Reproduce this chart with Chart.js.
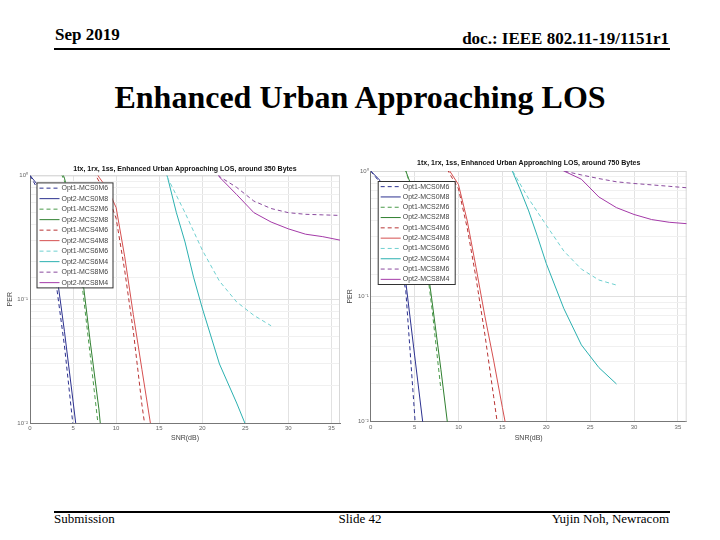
<!DOCTYPE html>
<html>
<head>
<meta charset="utf-8">
<script src="https://cdn.jsdelivr.net/npm/chart.js@4.4.0/dist/chart.umd.min.js"></script>
<style>
  body { margin: 0; background: #fff; width: 720px; height: 540px; position: relative; overflow: hidden; }
  .txt { position: absolute; font-family: 'Liberation Serif', 'Times New Roman', serif; color: #000; white-space: nowrap; }
  .rule { position: absolute; left: 54px; width: 616px; height: 1.5px; background: #000; }
  .box { position: absolute; }
</style>
</head>
<body>
<div class="txt" style="left:55px; top:25px; font-size:17px; font-weight:bold;">Sep 2019</div>
<div class="txt" style="right:51px; top:29px; font-size:17px; font-weight:bold;">doc.: IEEE 802.11-19/1151r1</div>
<div class="rule" style="top:48px;"></div>
<div class="txt" style="left:0; width:720px; text-align:center; top:79px; font-size:32px; font-weight:bold;">Enhanced Urban Approaching LOS</div>

<div class="box" style="left:0; top:160px; width:345px; height:285px;"><canvas id="leftChart" width="345" height="285"></canvas></div>
<div class="box" style="left:340px; top:155px; width:350px; height:290px;"><canvas id="rightChart" width="350" height="290"></canvas></div>

<div class="rule" style="top:511px;"></div>
<div class="txt" style="left:54px; top:511px; font-size:13px;">Submission</div>
<div class="txt" style="left:0; width:720px; text-align:center; top:511px; font-size:13px;">Slide 42</div>
<div class="txt" style="right:51px; top:511px; font-size:13px;">Yujin Noh, Newracom</div>

<script>
// legend labels (same in both plots)
const seriesLabels = ['Opt1-MCS0M6', 'Opt2-MCS0M8', 'Opt1-MCS2M6', 'Opt2-MCS2M8', 'Opt1-MCS4M6',
  'Opt2-MCS4M8', 'Opt1-MCS6M6', 'Opt2-MCS6M4', 'Opt1-MCS8M6', 'Opt2-MCS8M4'];
const seriesColors = ['#2c318f', '#2c318f', '#4a9a4a', '#2f7f2f', '#b83434', '#d65050',
  '#6fd0d0', '#2bb0b0', '#8a4a9e', '#a43aa8'];
const seriesDashed = [true, false, true, false, true, false, true, false, true, false];
const xTicks = [0, 5, 10, 15, 20, 25, 30, 35];

// --- around 350 Bytes (left) ---
const l_snr0 = [0, 1, 2, 3, 4, 5, 6];
const l_opt1_mcs0 = [1.0, 0.75, 0.42, 0.14, 0.042, 0.0095, 0.002];
const l_opt2_mcs0 = [1.0, 0.82, 0.5, 0.18, 0.055, 0.015, 0.004];
const l_snr2 = [3, 4, 5, 6, 7, 8, 9];
const l_opt1_mcs2 = [1.3, 0.9, 0.45, 0.14, 0.035, 0.0085, 0.002];
const l_opt2_mcs2 = [1.4, 0.95, 0.5, 0.17, 0.045, 0.013, 0.0025];
const l_snr4 = [7, 8, 9, 10, 11, 12, 13, 14, 15];
const l_opt1_mcs4 = [1.2, 0.9, 0.7, 0.45, 0.17, 0.055, 0.014, 0.0045, 0.0015];
const l_opt2_mcs4 = [1.3, 0.97, 0.78, 0.55, 0.22, 0.075, 0.027, 0.0098, 0.003];
const l_snr6a = [15, 16, 18, 20, 22, 24, 26, 28];
const l_opt1_mcs6 = [1.6, 0.95, 0.5, 0.25, 0.14, 0.095, 0.074, 0.061];
const l_snr6b = [15, 16, 17, 18, 19, 20, 22, 24, 25, 26];
const l_opt2_mcs6 = [1.6, 0.95, 0.5, 0.29, 0.15, 0.085, 0.03, 0.0145, 0.0098, 0.007];
const l_snr8 = [20, 22, 24, 26, 28, 30, 32, 34, 36];
const l_opt1_mcs8 = [1.8, 0.98, 0.8, 0.62, 0.54, 0.5, 0.485, 0.48, 0.475];
const l_opt2_mcs8 = [1.8, 0.97, 0.7, 0.5, 0.42, 0.37, 0.335, 0.32, 0.3];

// --- around 750 Bytes (right) ---
const r_snr0a = [0, 1, 2, 3, 4, 5, 6];
const r_opt1_mcs0 = [1.0, 0.82, 0.55, 0.27, 0.11, 0.0115, 0.001];
const r_snr0b = [0, 1, 2, 3, 4, 5, 6, 7];
const r_opt2_mcs0 = [1.0, 0.85, 0.6, 0.3, 0.13, 0.034, 0.009, 0.002];
const r_snr2a = [3, 4, 5, 6, 7, 8];
const r_opt1_mcs2 = [1.5, 1.0, 0.6, 0.28, 0.078, 0.018];
const r_snr2b = [3, 4, 5, 6, 7, 8, 9, 10];
const r_opt2_mcs2 = [1.5, 1.0, 0.65, 0.3, 0.09, 0.026, 0.007, 0.002];
const r_snr4a = [8, 9, 10, 11, 12, 13, 14, 15, 16];
const r_opt1_mcs4 = [1.3, 0.95, 0.72, 0.35, 0.14, 0.05, 0.016, 0.005, 0.0015];
const r_snr4b = [8, 9, 10, 11, 12, 13, 14, 15, 16, 17];
const r_opt2_mcs4 = [1.3, 1.0, 0.78, 0.4, 0.17, 0.07, 0.031, 0.013, 0.0056, 0.002];
const r_snr6a = [15, 16, 18, 20, 22, 24, 26, 28];
const r_opt1_mcs6 = [1.6, 1.05, 0.6, 0.37, 0.23, 0.165, 0.135, 0.123];
const r_snr6b = [15, 16, 17, 18, 19, 20, 22, 24, 26, 28];
const r_opt2_mcs6 = [1.6, 1.05, 0.72, 0.48, 0.3, 0.183, 0.08, 0.041, 0.027, 0.02];
const r_snr8 = [20, 22, 24, 26, 28, 30, 32, 34, 36];
const r_opt1_mcs8 = [1.2, 1.0, 0.93, 0.87, 0.82, 0.795, 0.775, 0.755, 0.735];
const r_opt2_mcs8 = [1.3, 1.0, 0.86, 0.62, 0.51, 0.45, 0.41, 0.39, 0.38];

function pts(xs, ys) {
  return xs.map((x, i) => ({ x: x, y: ys[i] }));
}

function makeDatasets(list) {
  return list.map((pair, i) => ({
    label: seriesLabels[i],
    data: pts(pair[0], pair[1]),
    borderColor: seriesColors[i],
    backgroundColor: seriesColors[i],
    borderWidth: 1,
    borderDash: seriesDashed[i] ? [4, 3] : [],
    pointRadius: 0,
    tension: 0,
    fill: false,
  }));
}

function isDecade(v) {
  const l = Math.log10(v);
  return Math.abs(l - Math.round(l)) < 1e-6;
}

// legend drawn as a framed box in the upper-left of the plot, like the MATLAB figure
const boxLegend = {
  id: 'boxLegend',
  afterDatasetsDraw(chart, args, opts) {
    const ctx = chart.ctx;
    const area = chart.chartArea;
    const x0 = area.left + opts.dx;
    const y0 = area.top + opts.dy;
    const rowH = opts.h / chart.data.datasets.length;
    ctx.save();
    ctx.fillStyle = '#fff';
    ctx.fillRect(x0, y0, opts.w, opts.h);
    ctx.strokeStyle = '#333';
    ctx.lineWidth = 1;
    ctx.strokeRect(x0 + 0.5, y0 + 0.5, opts.w, opts.h);
    ctx.font = '7px "Liberation Sans", Arial, sans-serif';
    ctx.textBaseline = 'middle';
    chart.data.datasets.forEach((ds, i) => {
      const cy = y0 + rowH * (i + 0.5) + 0.5;
      ctx.strokeStyle = ds.borderColor;
      ctx.setLineDash(ds.borderDash);
      ctx.beginPath();
      ctx.moveTo(x0 + 3, cy);
      ctx.lineTo(x0 + 23, cy);
      ctx.stroke();
      ctx.setLineDash([]);
      ctx.fillStyle = '#444';
      ctx.fillText(ds.label, x0 + 25, cy);
    });
    ctx.restore();
  },
};

const frameBox = {
  id: 'frameBox',
  beforeDatasetsDraw(chart) {
    const a = chart.chartArea;
    const ctx = chart.ctx;
    ctx.save();
    ctx.strokeStyle = '#d8d8d8';
    ctx.lineWidth = 1;
    ctx.beginPath();
    ctx.moveTo(a.left, a.top + 0.5);
    ctx.lineTo(a.right - 0.5, a.top + 0.5);
    ctx.lineTo(a.right - 0.5, a.bottom);
    ctx.stroke();
    ctx.restore();
  },
};

function makeChart(id, title, datasets, yAxisW, xAxisH, padRight, titlePad, legendOpts) {
  return new Chart(document.getElementById(id), {
    type: 'line',
    data: { datasets: datasets },
    plugins: [frameBox, boxLegend],
    options: {
      responsive: false,
      animation: false,
      layout: { padding: { left: 0, right: padRight, top: 0, bottom: 0 } },
      plugins: {
        legend: { display: false },
        tooltip: { enabled: false },
        title: {
          display: true,
          text: title,
          fullSize: false,
          color: '#111',
          font: { family: '"Liberation Sans", Arial, sans-serif', size: 7, weight: 'bold' },
          padding: titlePad,
        },
        boxLegend: legendOpts,
      },
      scales: {
        x: {
          type: 'linear',
          min: 0,
          max: 36,
          afterFit: (s) => { s.height = xAxisH; },
          afterBuildTicks: (s) => { s.ticks = xTicks.map((v) => ({ value: v })); },
          ticks: { color: '#666', font: { size: 6 }, padding: 2, maxRotation: 0 },
          grid: { color: '#e2e2e2', drawTicks: false },
          border: { color: '#777' },
          title: { display: true, text: 'SNR(dB)', color: '#444', font: { size: 7 }, padding: { top: 0, bottom: 3 } },
        },
        y: {
          type: 'logarithmic',
          min: 0.01,
          max: 1,
          afterFit: (s) => { s.width = yAxisW; },
          ticks: {
            color: '#666',
            font: { size: 6 },
            padding: 2,
            autoSkip: false,
            callback: (v) => (v === 1 ? '10\u2070' : Math.abs(v - 0.1) < 1e-9 ? '10\u207B\u00B9' : Math.abs(v - 0.01) < 1e-9 ? '10\u207B\u00B2' : ''),
          },
          grid: {
            drawTicks: false,
            color: (c) => (c.tick && isDecade(c.tick.value) ? '#e0e0e0' : '#f0f0f0'),
          },
          border: { color: '#777' },
          title: { display: true, text: 'PER', color: '#444', font: { size: 7 }, padding: { top: 6, bottom: 0 } },
        },
      },
    },
  });
}

const leftSets = makeDatasets([
  [l_snr0, l_opt1_mcs0], [l_snr0, l_opt2_mcs0],
  [l_snr2, l_opt1_mcs2], [l_snr2, l_opt2_mcs2],
  [l_snr4, l_opt1_mcs4], [l_snr4, l_opt2_mcs4],
  [l_snr6a, l_opt1_mcs6], [l_snr6b, l_opt2_mcs6],
  [l_snr8, l_opt1_mcs8], [l_snr8, l_opt2_mcs8],
]);
const rightSets = makeDatasets([
  [r_snr0a, r_opt1_mcs0], [r_snr0b, r_opt2_mcs0],
  [r_snr2a, r_opt1_mcs2], [r_snr2b, r_opt2_mcs2],
  [r_snr4a, r_opt1_mcs4], [r_snr4b, r_opt2_mcs4],
  [r_snr6a, r_opt1_mcs6], [r_snr6b, r_opt2_mcs6],
  [r_snr8, r_opt1_mcs8], [r_snr8, r_opt2_mcs8],
]);

makeChart('leftChart', '1tx, 1rx, 1ss, Enhanced Urban Approaching LOS, around 350 Bytes', leftSets,
  30, 22, 5, { top: 5, bottom: 2 }, { dx: 6.5, dy: 7, w: 76, h: 105 });
makeChart('rightChart', '1tx, 1rx, 1ss, Enhanced Urban Approaching LOS, around 750 Bytes', rightSets,
  30.7, 23.3, 3.3, { top: 4, bottom: 3.6 }, { dx: 7, dy: 10, w: 77, h: 103 });
</script>
</body>
</html>
